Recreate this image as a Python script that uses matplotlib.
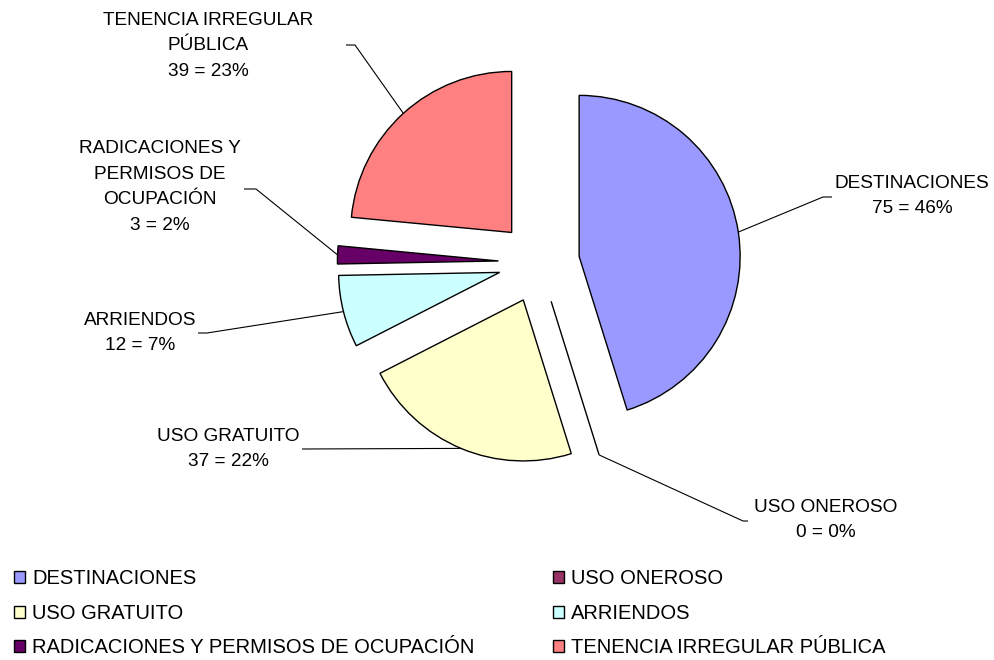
import matplotlib
matplotlib.use("Agg")
import matplotlib.pyplot as plt
import numpy as np

plt.rcParams['font.family'] = ['Liberation Sans', 'DejaVu Sans']

# data
categorias = ['DESTINACIONES', 'USO ONEROSO', 'USO GRATUITO', 'ARRIENDOS',
              'RADICACIONES Y PERMISOS DE OCUPACIÓN', 'TENENCIA IRREGULAR PÚBLICA']
etiquetas = ['DESTINACIONES', 'USO ONEROSO', 'USO GRATUITO', 'ARRIENDOS',
             'RADICACIONES Y\nPERMISOS DE\nOCUPACIÓN', 'TENENCIA IRREGULAR\nPÚBLICA']
valores = [75, 0, 37, 12, 3, 39]
porcentajes = ['46%', '0%', '22%', '7%', '2%', '23%']
colores = ['#9999FF', '#993366', '#FFFFCC', '#CCFFFF', '#660066', '#FF8080']

W, H = 994, 660
fig = plt.figure(figsize=(W / 100, H / 100), dpi=100)
ax = fig.add_axes([0, 0, 1, 1])

cx, cy, r, ex = 539, H - 262.5, 161, 40.6
wedges, _ = ax.pie(valores, colors=colores, startangle=90, counterclock=False,
                   center=(cx, cy), radius=r, explode=[ex] * len(valores),
                   wedgeprops=dict(edgecolor='black', linewidth=1.0),
                   normalize=True, frame=True)
ax.set_xlim(0, W)
ax.set_ylim(0, H)
ax.set_aspect('auto')
ax.axis('off')

# label text centre, elbow point, line end (pixel coords from top)
pos_texto = [(912, 196), (826, 520), (228, 449), (140, 333), (160, 187), (208, 46)]
codo = [(823, 197), (743, 521), (302, 449), (207, 333), (256, 189), (355, 45)]
fin = [(832, 197), (748, 521), (302, 449), (198, 333), (244, 189), (346, 45)]

for i, w in enumerate(wedges):
    tm = np.deg2rad((w.theta1 + w.theta2) / 2)
    wx, wy = w.center
    px = wx + r * np.cos(tm)
    py = wy + r * np.sin(tm)
    xs = [px, codo[i][0], fin[i][0]]
    ys = [py, H - codo[i][1], H - fin[i][1]]
    ax.plot(xs, ys, color='black', lw=0.8, solid_capstyle='butt')
    ax.text(pos_texto[i][0], H - pos_texto[i][1],
            f"{etiquetas[i]}\n{valores[i]} = {porcentajes[i]}",
            ha='center', va='center', fontsize=13.7, linespacing=1.68,
            color='black')

orden = [0, 2, 4, 1, 3, 5]
leg = fig.legend([wedges[i] for i in orden], [categorias[i] for i in orden],
                 ncol=2, loc='upper left', bbox_to_anchor=(14 / W, 1 - 569 / H),
                 frameon=False, fontsize=14.5, handlelength=0.55, handleheight=0.55,
                 handletextpad=0.35, labelspacing=0.78, columnspacing=3.9,
                 borderpad=0, borderaxespad=0)

fig.savefig('out.png', dpi=100, facecolor='white')
